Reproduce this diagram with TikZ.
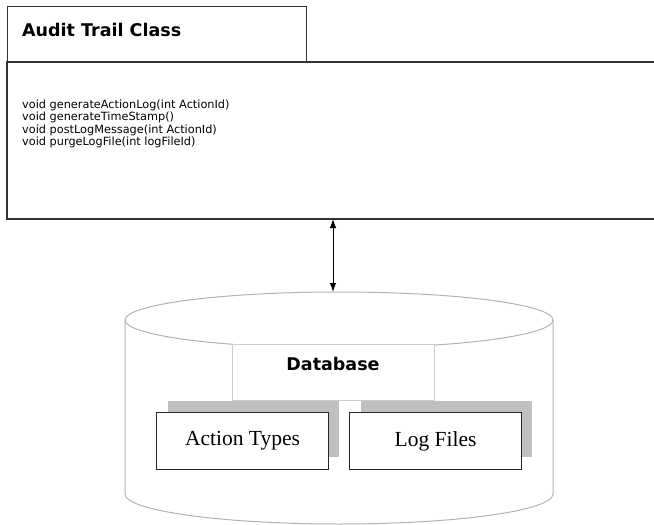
\documentclass[tikz,border=0pt]{standalone}
\usepackage{fontspec}
\setmainfont{Liberation Serif}
\setsansfont{DejaVu Sans}
\usetikzlibrary{arrows.meta}
\begin{document}
\begin{tikzpicture}[x=1pt,y=-1pt,
  umlline/.style={draw=black!80, line width=1.3pt},
  cylline/.style={draw=black!30, line width=1pt},
  tablebox/.style={draw=black!85, line width=1.1pt, fill=white, inner sep=0pt,
    minimum width=172pt, minimum height=57pt, font=\fontsize{21.5}{24}\selectfont},
  tableshadow/.style={fill=black!25, draw=none},
  optext/.style={anchor=base west, inner sep=0pt, font=\sffamily\fontsize{11.3}{13}\selectfont},
  boldlabel/.style={inner sep=0pt, font=\sffamily\bfseries\fontsize{17.5}{20}\selectfont},
  link/.style={line width=1pt, {Latex[length=9pt,width=6.5pt]}-{Latex[length=9pt,width=6.5pt]}}
]
\useasboundingbox (0,0) rectangle (654,525);

% operations compartment, running past the right edge
\draw[umlline] (655,62) -- (7,62) -- (7,219) -- (655,219);
% class name compartment
\node[draw=black!80, line width=1.3pt, anchor=north west, inner sep=0pt,
  minimum width=299pt, minimum height=56pt] (cls) at (7,6) {};
\node[boldlabel, anchor=base west] (title) at (22,36) {Audit Trail Class};

\node[optext] (op1) at (22,108) {void generateActionLog(int ActionId)};
\node[optext] (op2) at (22,120.5) {void generateTimeStamp()};
\node[optext] (op3) at (22,133) {void postLogMessage(int ActionId)};
\node[optext] (op4) at (22,145.5) {void purgeLogFile(int logFileId)};
\coordinate (opsbottom) at (333,219);

% database cylinder
\coordinate (dbtop) at (333,292);
\draw[cylline] (339,320) ellipse[x radius=214, y radius=28];
\draw[cylline] (125,320) -- (125,494) arc[start angle=180, end angle=0, x radius=214, y radius=30] -- (553,320);

\node[draw=black!20, fill=white, line width=0.6pt, minimum width=202pt, minimum height=56pt,
  anchor=north west, inner sep=0pt] (db) at (232,344) {};
\node[boldlabel, anchor=base] (dblabel) at (333,370.5) {Database};

% tables with drop shadows
\fill[tableshadow] (168,401) rectangle (339,457);
\fill[tableshadow] (361,401) rectangle (532,457);
\node[tablebox, anchor=north west] (actions) at (156,412) {Action Types};
\node[tablebox, anchor=north west] (logs) at (349,412) {Log Files};

% link between class and database
\draw[link] (opsbottom) -- (dbtop);
\end{tikzpicture}
\end{document}
